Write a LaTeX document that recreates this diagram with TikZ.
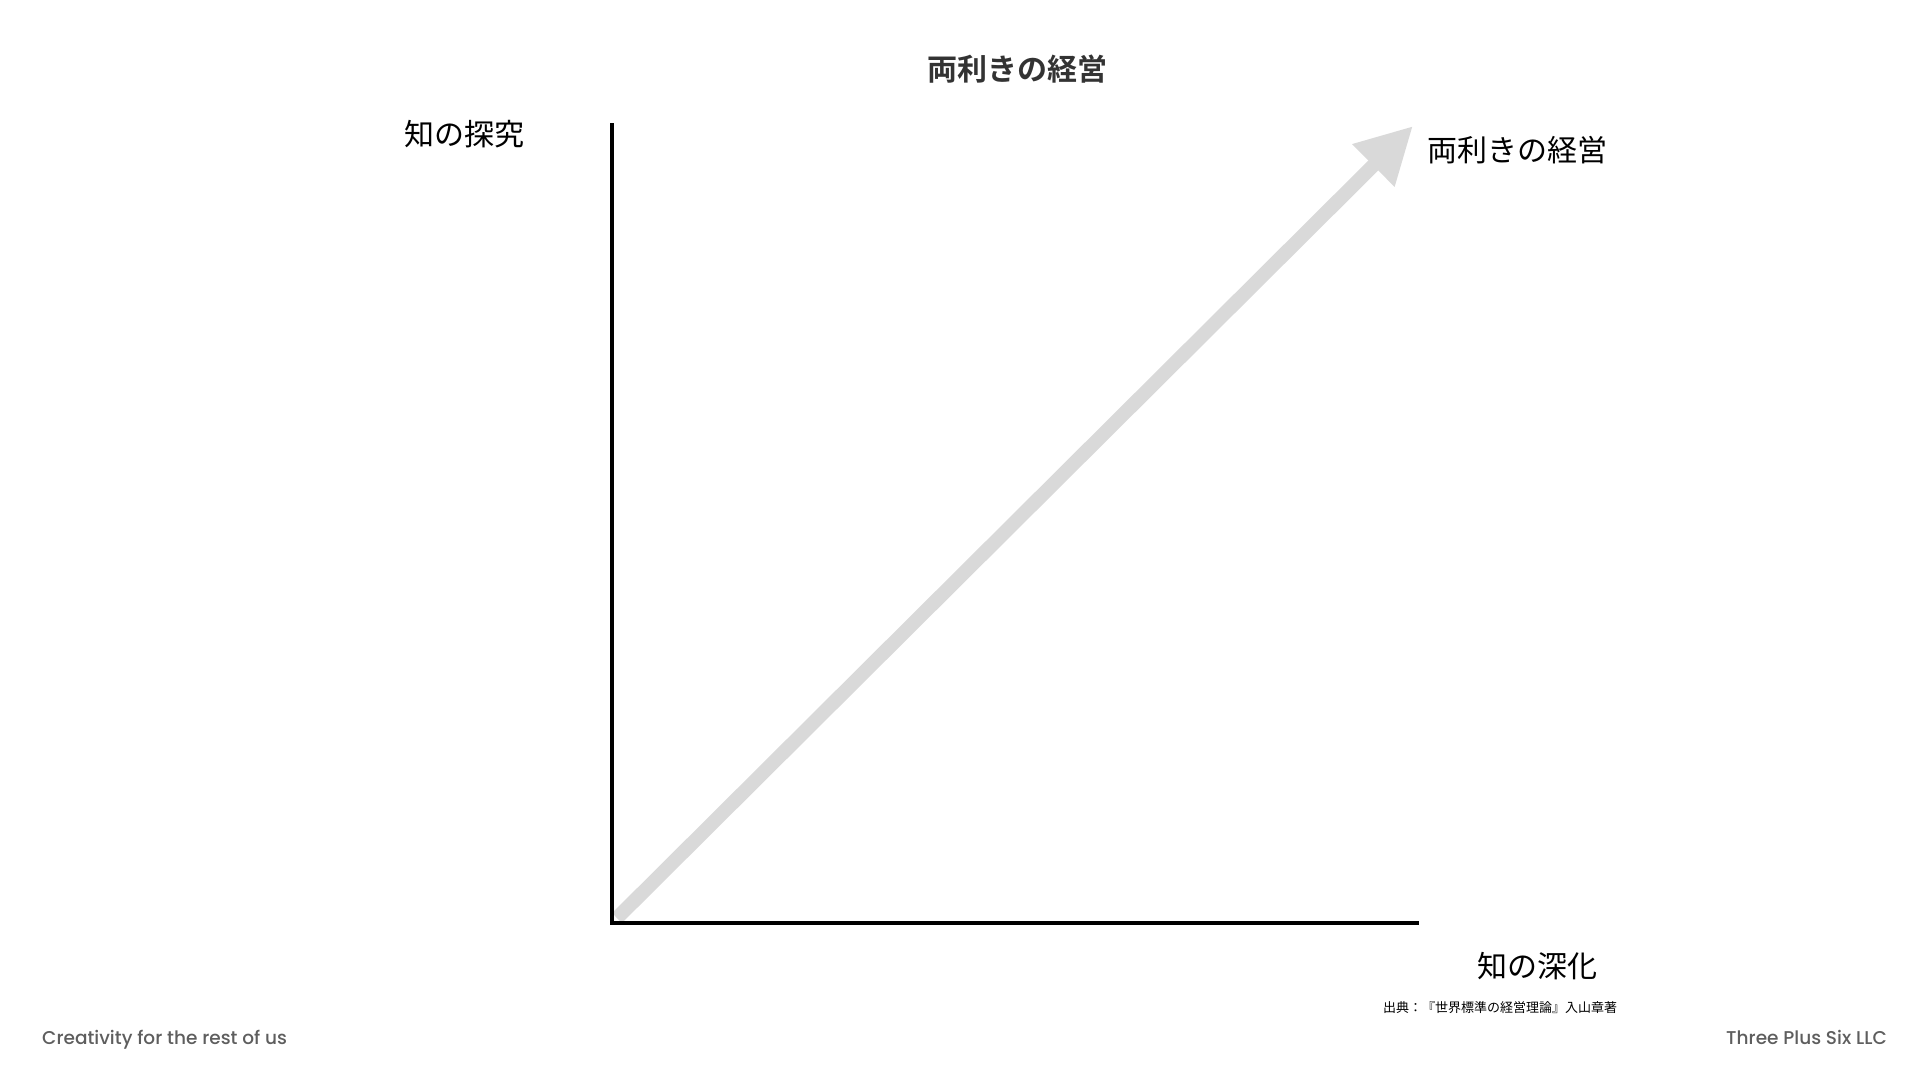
\documentclass[tikz,border=0pt]{standalone}
\usepackage{fontspec}
\newfontfamily\footfont{Poppins Medium}
\newfontfamily\jpfont{Noto Sans CJK JP}
\newfontfamily\jpbold{Noto Sans CJK JP Bold}
\usetikzlibrary{arrows.meta,positioning}
\definecolor{arrowgray}{HTML}{D9D9D9}
\definecolor{titlegray}{HTML}{333333}
\definecolor{footgray}{HTML}{5E5E5E}
\tikzset{
  axis/.style={line width=4.8pt, line join=miter},
  growth/.style={draw=arrowgray, line width=14pt,
    -{Triangle[length=56pt,width=56pt]}},
  jplabel/.style={font=\jpfont\fontsize{30}{36}\selectfont, inner sep=0pt},
  jptitle/.style={font=\jpbold\fontsize{30}{36}\selectfont, text=titlegray, inner sep=0pt},
  source/.style={font=\jpfont\fontsize{13}{16}\selectfont, inner sep=0pt},
  footer/.style={font=\footfont\fontsize{18.5}{22}\selectfont, text=footgray, inner sep=0pt}
}
\begin{document}
\begin{tikzpicture}[x=1pt,y=-1pt]
\useasboundingbox (0,0) rectangle (1920,1080);
% axes end points
\coordinate (origin) at (612,923);
\coordinate (ytop) at (612,123);
\coordinate (xend) at (1419,923);
\coordinate (start) at (617,918);
\coordinate (tip) at (1413,126);
% growth arrow
\draw[growth] (start) -- (tip);
\draw[axis] (ytop) -- (origin) -- (xend);
% labels
\node[jptitle] (title) at (1017,69) {両利きの経営};
\node[jplabel] (explore) at (464,134) {知の探究};
\node[jplabel, anchor=west] (ambi) at (1427,150) {両利きの経営};
\node[jplabel] (exploit) at (1537,966) {知の深化};
\node[source] (src) at (1500,1008) {出典：『世界標準の経営理論』入山章著};
\node[footer, anchor=base west] (motto) at (42,1044) {Creativity for the rest of us};
\node[footer, anchor=base east] (company) at (1887,1044) {Three Plus Six LLC};
\end{tikzpicture}
\end{document}
